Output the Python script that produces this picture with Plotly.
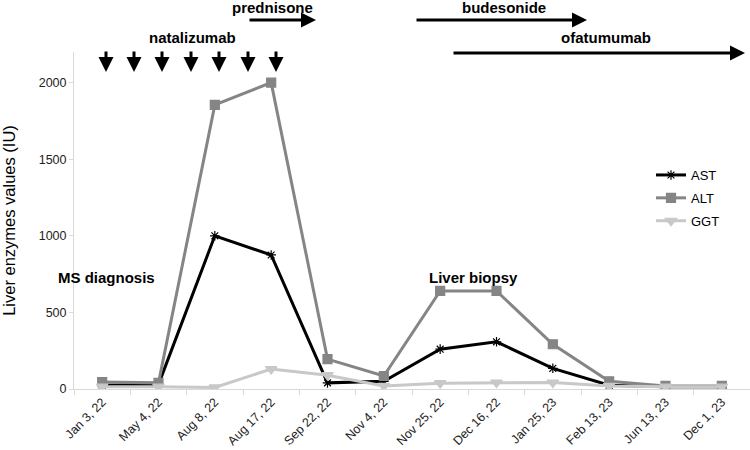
import plotly.graph_objects as go

dates = ["Jan 3, 22", "May 4, 22", "Aug 8, 22", "Aug 17, 22", "Sep 22, 22", "Nov 4, 22",
         "Nov 25, 22", "Dec 16, 22", "Jan 25, 23", "Feb 13, 23", "Jun 13, 23", "Dec 1, 23"]
ast = [25, 30, 1000, 875, 40, 50, 260, 308, 135, 25, 15, 15]
alt = [45, 40, 1855, 2000, 195, 85, 640, 640, 292, 50, 20, 20]
ggt = [15, 15, 10, 130, 90, 20, 38, 42, 42, 20, 15, 15]

fig = go.Figure()
series = [
    ("AST", ast, "#000000", "asterisk-open", 8),
    ("ALT", alt, "#858585", "square", 9),
    ("GGT", ggt, "#c8c8c8", "triangle-down", 10),
]
for name, vals, col, sym, size in series:
    fig.add_trace(go.Scatter(
        x=dates, y=vals, name=name, mode="lines+markers",
        line=dict(color=col, width=3),
        marker=dict(symbol=sym, size=size, color=col, line=dict(color=col, width=1.2)),
        legendgroup=name,
    ))

bold = dict(family="Liberation Sans, Arial", size=15, color="#000000")

# plot area in page pixels: x 74..750, y 52..389
def px_x(p):
    return (p - 74) / 676


def px_y(p):
    return (389 - p) / 337


ann = []
# natalizumab doses
for xp in [106, 134, 162, 191, 219, 248, 276]:
    ann.append(dict(x=px_x(xp), y=px_y(72), xref="paper", yref="paper", ax=0, ay=-22,
                    showarrow=True, arrowhead=2, arrowsize=1, arrowwidth=3, arrowcolor="#000", text=""))
# treatment bars
for tail, tip, yp in [(248, 316, 20), (415, 587, 20), (452, 745, 53)]:
    ann.append(dict(x=px_x(tip), y=px_y(yp), xref="paper", yref="paper", ax=tail - tip, ay=0,
                    showarrow=True, arrowhead=2, arrowsize=1, arrowwidth=3, arrowcolor="#000", text=""))
for label, xp, yp in [("natalizumab", 192, 38), ("prednisone", 272, 8), ("budesonide", 504, 8),
                      ("ofatumumab", 606, 38), ("MS diagnosis", 106, 277), ("Liver biopsy", 473, 277)]:
    ann.append(dict(x=px_x(xp), y=px_y(yp), xref="paper", yref="paper", text="<b>%s</b>" % label,
                    showarrow=False, font=bold, xanchor="center", yanchor="middle"))

fig.update_layout(
    width=750, height=450,
    margin=dict(l=74, r=0, t=52, b=61),
    paper_bgcolor="white", plot_bgcolor="white",
    font=dict(family="Liberation Sans, Arial", size=12, color="#222222"),
    annotations=ann,
    legend=dict(x=px_x(651), y=px_y(160), xanchor="left", yanchor="top",
                font=dict(size=13, color="#000"), bgcolor="rgba(0,0,0,0)",
                tracegroupgap=3, traceorder="grouped", itemwidth=30),
    xaxis=dict(type="category", showgrid=False, showline=True, linecolor="#d9d9d9",
               ticks="outside", tickson="boundaries", ticklen=5, tickcolor="#d9d9d9",
               tickangle=-45, tickfont=dict(size=12.5, color="#222222"), range=[-0.5, 11.5],
               automargin=False),
    yaxis=dict(range=[0, 2200], tickvals=[0, 500, 1000, 1500, 2000], showgrid=False,
               zeroline=False, showline=True, linecolor="#d9d9d9", ticks="outside", ticklen=4,
               tickcolor="#d9d9d9", tickfont=dict(size=12.5, color="#222222"), automargin=False,
               title=dict(text="Liver enzymes values (IU)", font=dict(size=16.5, color="#000"), standoff=18)),
)

# drop the default page margin so the figure sits at the window's corner
fig.write_html("out.html", config={"displayModeBar": False},
               post_script="document.body.style.margin='0';")
